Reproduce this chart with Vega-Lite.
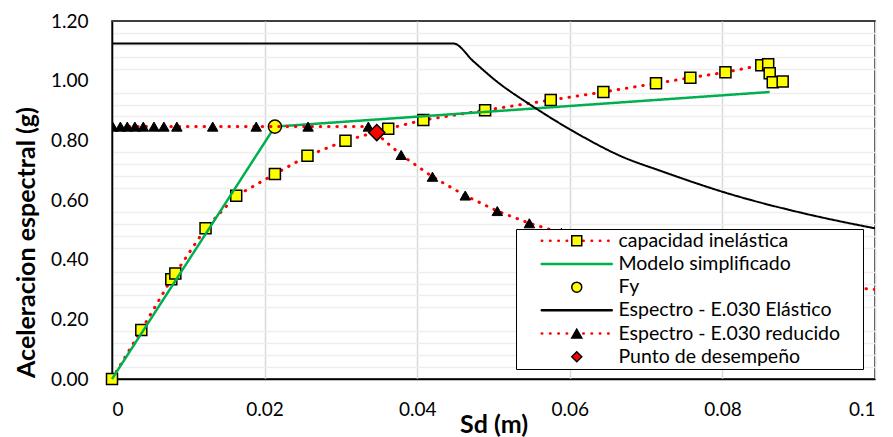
{
  "$schema": "https://vega.github.io/schema/vega-lite/v6.json",
  "width": 763,
  "height": 358,
  "autosize": {"type": "none"},
  "padding": {"left": 112, "top": 21, "right": 18, "bottom": 58},
  "background": "white",
  "config": {
    "font": "Lato",
    "view": {"stroke": "black", "strokeWidth": 1.5},
    "axis": {
      "labelFont": "Lato", "labelFontSize": 19, "labelColor": "#000000",
      "titleFont": "Lato", "titleFontSize": 25, "titleFontWeight": "bold", "titleColor": "#000000",
      "domainColor": "#000000", "domainWidth": 1.5, "ticks": false, "gridWidth": 1.5
    },
    "legend": {
      "orient": "none", "legendX": 404, "legendY": 208, "padding": 2,
      "labelFont": "Lato", "labelFontSize": 19.5, "labelColor": "#000000", "labelLimit": 600,
      "rowPadding": 2.2, "symbolOffset": 49, "labelOffset": 32, "symbolSize": 100
    }
  },
  "resolve": {"axis": {"y": "independent"}},
  "datasets": {
    "capacidad": [
      {"orden": 1, "sd": 0.0, "sa": 0.0},
      {"orden": 2, "sd": 0.00384, "sa": 0.164},
      {"orden": 3, "sd": 0.00777, "sa": 0.334},
      {"orden": 4, "sd": 0.0083, "sa": 0.354},
      {"orden": 5, "sd": 0.01226, "sa": 0.505},
      {"orden": 6, "sd": 0.01628, "sa": 0.614},
      {"orden": 7, "sd": 0.02135, "sa": 0.687},
      {"orden": 8, "sd": 0.02562, "sa": 0.748},
      {"orden": 9, "sd": 0.0306, "sa": 0.799},
      {"orden": 10, "sd": 0.0362, "sa": 0.839},
      {"orden": 11, "sd": 0.0408, "sa": 0.868},
      {"orden": 12, "sd": 0.0489, "sa": 0.901},
      {"orden": 13, "sd": 0.0575, "sa": 0.935},
      {"orden": 14, "sd": 0.0644, "sa": 0.962},
      {"orden": 15, "sd": 0.0713, "sa": 0.991},
      {"orden": 16, "sd": 0.0758, "sa": 1.010},
      {"orden": 17, "sd": 0.0804, "sa": 1.028},
      {"orden": 18, "sd": 0.0851, "sa": 1.052},
      {"orden": 19, "sd": 0.0860, "sa": 1.055},
      {"orden": 20, "sd": 0.0862, "sa": 1.025},
      {"orden": 21, "sd": 0.0866, "sa": 0.995},
      {"orden": 22, "sd": 0.0879, "sa": 0.997}
    ],
    "modelo": [
      {"sd": 0.0, "sa": 0.0},
      {"sd": 0.02135, "sa": 0.846},
      {"sd": 0.0862, "sa": 0.962}
    ],
    "fy": [
      {"sd": 0.02135, "sa": 0.846}
    ],
    "elastico": [
      {"sd": 0.0, "sa": 1.125},
      {"sd": 0.0447, "sa": 1.125},
      {"sd": 0.0474, "sa": 1.064},
      {"sd": 0.0502, "sa": 1.002},
      {"sd": 0.0552, "sa": 0.913},
      {"sd": 0.0613, "sa": 0.818},
      {"sd": 0.0666, "sa": 0.748},
      {"sd": 0.0722, "sa": 0.695},
      {"sd": 0.0806, "sa": 0.623},
      {"sd": 0.0902, "sa": 0.558},
      {"sd": 0.1, "sa": 0.505}
    ],
    "reducido": [
      {"sd": 0.0001, "sa": 0.846},
      {"sd": 0.0011, "sa": 0.846},
      {"sd": 0.0020, "sa": 0.846},
      {"sd": 0.0030, "sa": 0.846},
      {"sd": 0.0041, "sa": 0.846},
      {"sd": 0.0055, "sa": 0.846},
      {"sd": 0.0068, "sa": 0.846},
      {"sd": 0.0085, "sa": 0.846},
      {"sd": 0.0132, "sa": 0.846},
      {"sd": 0.0189, "sa": 0.846},
      {"sd": 0.0257, "sa": 0.846},
      {"sd": 0.0336, "sa": 0.846},
      {"sd": 0.0379, "sa": 0.751},
      {"sd": 0.0420, "sa": 0.678},
      {"sd": 0.0463, "sa": 0.615},
      {"sd": 0.0505, "sa": 0.563},
      {"sd": 0.0547, "sa": 0.522},
      {"sd": 0.0589, "sa": 0.490},
      {"sd": 0.0631, "sa": 0.460},
      {"sd": 0.0673, "sa": 0.430},
      {"sd": 0.0715, "sa": 0.405},
      {"sd": 0.0757, "sa": 0.382},
      {"sd": 0.0799, "sa": 0.362},
      {"sd": 0.0841, "sa": 0.345},
      {"sd": 0.0883, "sa": 0.330},
      {"sd": 0.0925, "sa": 0.318},
      {"sd": 0.0967, "sa": 0.307},
      {"sd": 0.1009, "sa": 0.298}
    ],
    "punto": [
      {"sd": 0.0347, "sa": 0.826}
    ]
  },
  "layer": [
    {
      "data": {"name": "capacidad"},
      "mark": {"type": "line", "strokeWidth": 3, "strokeCap": "round", "clip": true},
      "encoding": {
        "x": {
          "field": "sd", "type": "quantitative",
          "scale": {"domain": [0, 0.1], "nice": false, "zero": false},
          "axis": {
            "title": "Sd (m)",
            "values": [0, 0.02, 0.04, 0.06, 0.08, 0.1],
            "labelExpr": "datum.value == 0 ? '0' : (datum.value > 0.099 ? '0.1' : format(datum.value, '.2f'))",
            "gridColor": "#d9d9d9",
            "labelPadding": 21,
            "titleBaseline": "middle",
            "titleY": 45
          }
        },
        "y": {
          "field": "sa", "type": "quantitative",
          "scale": {"domain": [0, 1.2], "nice": false},
          "axis": {
            "orient": "left",
            "title": null,
            "labels": false,
            "domain": false,
            "values": [0.04, 0.08, 0.12, 0.16, 0.24, 0.28, 0.32, 0.36, 0.44, 0.48, 0.52, 0.56, 0.64, 0.68, 0.72, 0.76, 0.84, 0.88, 0.92, 0.96, 1.04, 1.08, 1.12, 1.16],
            "gridColor": "#eeeeee"
          }
        },
        "order": {"field": "orden", "type": "quantitative"},
        "stroke": {
          "datum": "capacidad inelástica ",
          "type": "nominal",
          "scale": {
            "domain": ["capacidad inelástica ", "Modelo simplificado ", "Fy ", "Espectro - E.030 Elástico ", "Espectro - E.030 reducido ", "Punto de desempeño "],
            "range": ["#ff0000", "#00b050", "transparent", "#000000", "#ff0000", "transparent"]
          },
          "legend": {
            "title": null,
            "symbolType": "M-7,0H7",
            "symbolStrokeWidth": 2.5,
            "labelExpr": "' '",
            "labelOpacity": 0,
            "labelOffset": 274.5,
            "fillColor": "white",
            "strokeColor": "black",
            "encoding": {"symbols": {"strokeCap": {"value": "round"}}}
          }
        },
        "strokeDash": {
          "datum": "capacidad inelástica ",
          "type": "nominal",
          "scale": {
            "domain": ["capacidad inelástica ", "Modelo simplificado ", "Fy ", "Espectro - E.030 Elástico ", "Espectro - E.030 reducido ", "Punto de desempeño "],
            "range": [[0.5, 7.8], [1, 0], [1, 0], [1, 0], [0.5, 7.8], [1, 0]]
          },
          "legend": {"title": null}
        }
      }
    },
    {
      "data": {"name": "capacidad"},
      "mark": {"type": "point", "filled": true, "stroke": "black", "strokeWidth": 1.5, "size": 121, "opacity": 1},
      "encoding": {
        "x": {"field": "sd", "type": "quantitative"},
        "y": {
          "field": "sa", "type": "quantitative",
          "axis": {
            "orient": "left",
            "title": "Aceleracion espectral (g)",
            "values": [0, 0.2, 0.4, 0.6, 0.8, 1.0, 1.2],
            "format": ".2f",
            "gridColor": "#d9d9d9",
            "labelPadding": 24,
            "titleBaseline": "middle",
            "titleAngle": -90,
            "titleX": -86,
            "titleY": 221
          }
        },
        "fill": {
          "datum": "capacidad inelástica",
          "type": "nominal",
          "scale": {
            "domain": ["capacidad inelástica", "Modelo simplificado", "Fy", "Espectro - E.030 Elástico", "Espectro - E.030 reducido", "Punto de desempeño"],
            "range": ["#ffff00", "transparent", "#ffff00", "transparent", "#000000", "#ff0000"]
          },
          "legend": {
            "title": null,
            "symbolStrokeColor": "black",
            "symbolStrokeWidth": 1.5,
            "fillColor": "transparent",
            "strokeColor": "transparent"
          }
        },
        "shape": {
          "datum": "capacidad inelástica",
          "type": "nominal",
          "scale": {
            "domain": ["capacidad inelástica", "Modelo simplificado", "Fy", "Espectro - E.030 Elástico", "Espectro - E.030 reducido", "Punto de desempeño"],
            "range": ["square", "M0,0", "circle", "M0,0", "triangle-up", "diamond"]
          },
          "legend": {"title": null}
        }
      }
    },
    {
      "data": {"name": "modelo"},
      "mark": {"type": "line", "strokeWidth": 2.5},
      "encoding": {
        "x": {"field": "sd", "type": "quantitative"},
        "y": {"field": "sa", "type": "quantitative", "axis": null},
        "stroke": {"datum": "Modelo simplificado ", "type": "nominal"},
        "strokeDash": {"datum": "Modelo simplificado ", "type": "nominal"}
      }
    },
    {
      "data": {"name": "fy"},
      "mark": {"type": "point", "filled": true, "stroke": "black", "strokeWidth": 1.5, "size": 170, "opacity": 1},
      "encoding": {
        "x": {"field": "sd", "type": "quantitative"},
        "y": {"field": "sa", "type": "quantitative", "axis": null},
        "fill": {"datum": "Fy", "type": "nominal"},
        "shape": {"datum": "Fy", "type": "nominal"}
      }
    },
    {
      "data": {"name": "elastico"},
      "mark": {"type": "line", "strokeWidth": 2, "interpolate": "monotone", "clip": true},
      "encoding": {
        "x": {"field": "sd", "type": "quantitative"},
        "y": {"field": "sa", "type": "quantitative", "axis": null},
        "stroke": {"datum": "Espectro - E.030 Elástico ", "type": "nominal"},
        "strokeDash": {"datum": "Espectro - E.030 Elástico ", "type": "nominal"}
      }
    },
    {
      "data": {"name": "reducido"},
      "mark": {"type": "line", "strokeWidth": 3, "strokeCap": "round", "clip": true},
      "encoding": {
        "x": {"field": "sd", "type": "quantitative"},
        "y": {"field": "sa", "type": "quantitative", "axis": null},
        "stroke": {"datum": "Espectro - E.030 reducido ", "type": "nominal"},
        "strokeDash": {"datum": "Espectro - E.030 reducido ", "type": "nominal"}
      }
    },
    {
      "data": {"name": "reducido"},
      "mark": {"type": "point", "filled": true, "stroke": "black", "strokeWidth": 1, "size": 110, "opacity": 1, "clip": true},
      "encoding": {
        "x": {"field": "sd", "type": "quantitative"},
        "y": {"field": "sa", "type": "quantitative", "axis": null},
        "fill": {"datum": "Espectro - E.030 reducido", "type": "nominal"},
        "shape": {"datum": "Espectro - E.030 reducido", "type": "nominal"}
      }
    },
    {
      "data": {"name": "punto"},
      "mark": {"type": "point", "filled": true, "stroke": "black", "strokeWidth": 1.5, "size": 260, "opacity": 1},
      "encoding": {
        "x": {"field": "sd", "type": "quantitative"},
        "y": {"field": "sa", "type": "quantitative", "axis": null},
        "fill": {"datum": "Punto de desempeño", "type": "nominal"},
        "shape": {"datum": "Punto de desempeño", "type": "nominal"}
      }
    }
  ]
}
